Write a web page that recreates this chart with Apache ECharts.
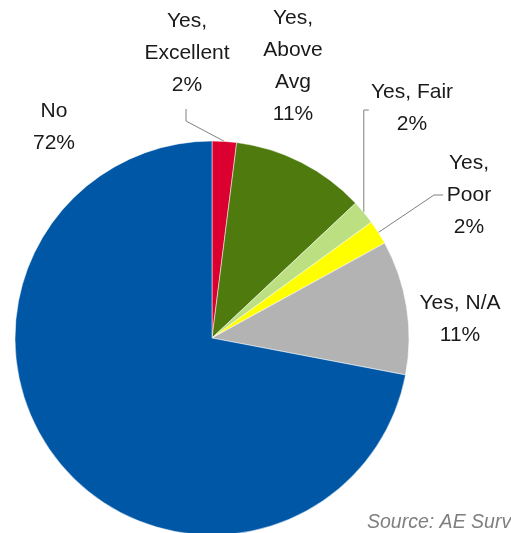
<!DOCTYPE html>
<html>
<head>
<meta charset="utf-8">
<script src="https://cdn.jsdelivr.net/npm/echarts@6/dist/echarts.min.js"></script>
<style>
  html, body { margin: 0; padding: 0; background: #fff; }
  #chart { width: 511px; height: 533px; }
</style>
</head>
<body>
<div id="chart"></div>
<script>
// Survey answers, clockwise from 12 o'clock
const categories = ['Yes,\nExcellent', 'Yes,\nAbove\nAvg', 'Yes, Fair', 'Yes,\nPoor', 'Yes, N/A', 'No'];
const shares = [2, 11, 2, 2, 11, 72];
const colors = ['#DC0030', '#4E7A0E', '#BCDF82', '#FFFF00', '#B3B3B3', '#0057A6'];
const sourceNote = 'Source: AE Survey';

// Where each label block sits and which ones get a leader line
const labelSpots = [
  { x: 187, y: 53,  line: (p) => [p, [186, 121], [186, 109]] },
  { x: 293, y: 66,  line: null },
  { x: 412, y: 108, line: (p) => [p, [p[0], 110], [p[0] + 5, 110]] },
  { x: 469, y: 195, line: (p) => [p, [434, 195], [443, 195]] },
  { x: 460, y: 319, line: null },
  { x: 54,  y: 127, line: null }
];

const chart = echarts.init(document.getElementById('chart'), null, { renderer: 'canvas' });

chart.setOption({
  animation: false,
  backgroundColor: '#ffffff',
  series: [{
    type: 'pie',
    center: [212, 338],
    radius: 197,
    startAngle: 90,
    clockwise: true,
    avoidLabelOverlap: false,
    itemStyle: { borderColor: '#ffffff', borderWidth: 0.5 },
    label: {
      show: true,
      position: 'outside',
      formatter: '{b}\n{c}%',
      fontFamily: '"Liberation Sans", Arial, sans-serif',
      fontSize: 21,
      lineHeight: 32,
      color: '#1a1a1a',
      align: 'center'
    },
    labelLine: {
      show: true,
      length: 10,
      length2: 10,
      lineStyle: { color: '#808080', width: 1 }
    },
    labelLayout: function (params) {
      const spot = labelSpots[params.dataIndex];
      const out = { x: spot.x, y: spot.y, align: 'center', verticalAlign: 'middle' };
      if (spot.line && params.labelLinePoints) {
        out.labelLinePoints = spot.line(params.labelLinePoints[0]);
      }
      return out;
    },
    data: categories.map((name, i) => ({
      name: name,
      value: shares[i],
      itemStyle: { color: colors[i] },
      labelLine: { show: !!labelSpots[i].line }
    }))
  }],
  graphic: [{
    type: 'text',
    left: 367,
    top: 513,
    style: {
      text: sourceNote,
      font: 'italic 19.5px "Liberation Sans"',
      fill: '#7f7f7f'
    }
  }]
});
</script>
</body>
</html>
